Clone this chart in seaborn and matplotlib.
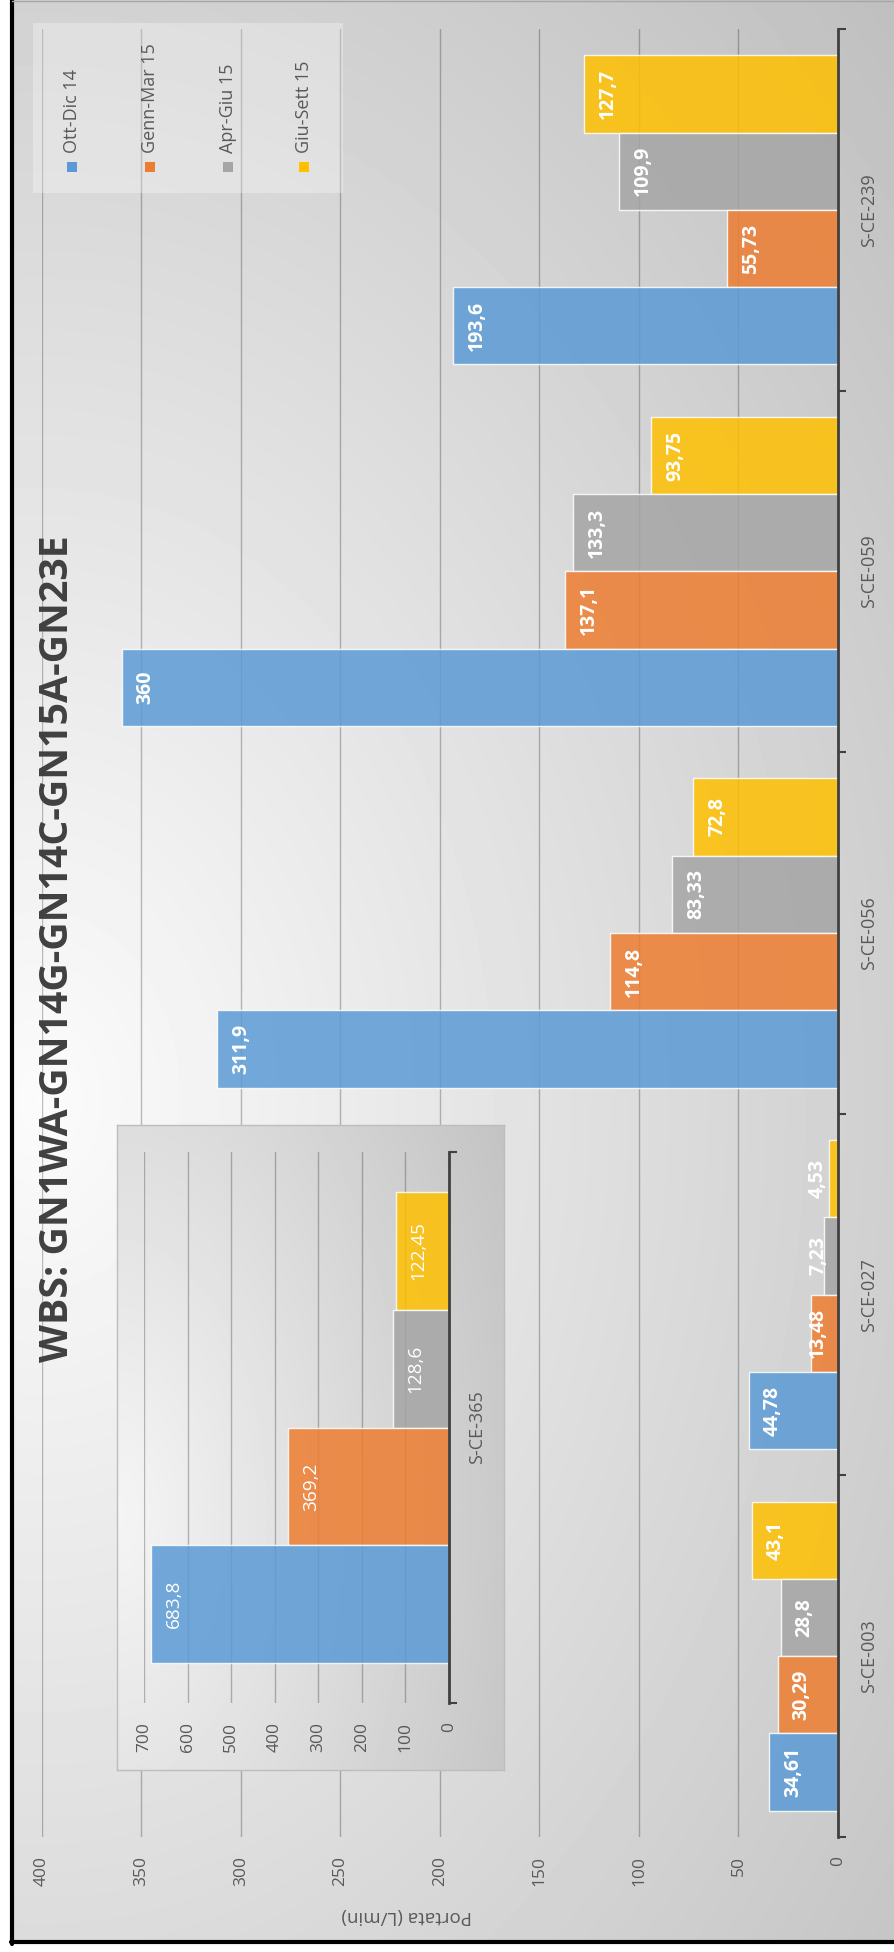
import numpy as np
import pandas as pd
import seaborn as sns
import matplotlib.pyplot as plt
from matplotlib.patches import Rectangle
from matplotlib.lines import Line2D

# data
periods = ['Ott-Dic 14', 'Genn-Mar 15', 'Apr-Giu 15', 'Giu-Sett 15']
colors = ['#5B9BD5', '#ED7D31', '#A5A5A5', '#FFC000']
stations = ['S-CE-003', 'S-CE-027', 'S-CE-056', 'S-CE-059', 'S-CE-239']
ott_dic = [34.61, 44.78, 311.9, 360, 193.6]
genn_mar = [30.29, 13.48, 114.8, 137.1, 55.73]
apr_giu = [28.8, 7.23, 83.33, 133.3, 109.9]
giu_sett = [43.1, 4.53, 72.8, 93.75, 127.7]

inset_station = ['S-CE-365']
inset_values = [683.8, 369.2, 128.6, 122.45]

title = 'WBS: GN1WA-GN14G-GN14C-GN15A-GN23E'
value_label = 'Portata (L/min)'

W, H = 895, 1952

df = pd.DataFrame({
    'Stazione': stations * 4,
    'Periodo': np.repeat(periods, len(stations)),
    'Portata': ott_dic + genn_mar + apr_giu + giu_sett,
})
df_in = pd.DataFrame({'Stazione': inset_station * 4, 'Periodo': periods,
                      'Portata': inset_values})

sns.set_style('white')
plt.rcParams['font.family'] = ['Open Sans', 'DejaVu Sans']

fig = plt.figure(figsize=(W / 100, H / 100), dpi=100)
fig.patch.set_facecolor('white')


def fx(px):
    return px / W


def fy(py):
    return 1 - py / H


def fmt(v):
    return f'{v:g}'.replace('.', ',')


# background gradient (whole chart area)
bg = fig.add_axes([fx(12), fy(1942), fx(W - 12), 1942 / H], zorder=0)
xx, yy = np.meshgrid(np.arange(12, W), np.arange(0, 1942))
d = np.sqrt(((xx - 40) / 850) ** 2 + ((yy - 1100) / 1150) ** 2)
bg.imshow(np.clip(0.985 - 0.17 * d, 0.74, 0.99), cmap='gray', vmin=0, vmax=1,
          extent=[0, 1, 0, 1], aspect='auto', origin='upper')
bg.set_axis_off()

# the chart is drawn turned a quarter turn: bars grow leftwards from the baseline
hue_order = periods[::-1]
pal = dict(zip(periods, colors))

# main chart
ax = fig.add_axes([fx(42), fy(1837), fx(838 - 42), (1837 - 29) / H], zorder=1)
ax.patch.set_alpha(0)
sns.barplot(data=df, y='Stazione', x='Portata', hue='Periodo', order=stations[::-1],
            hue_order=hue_order, palette=pal, orient='h', width=0.855, gap=0,
            saturation=1, alpha=0.85, edgecolor=(1, 1, 1, 0.45), linewidth=1,
            errorbar=None, legend=False, ax=ax, zorder=2)
ax.set_xlim(400, 0)
ax.set_ylim(len(stations) - 0.5, -0.5)
ax.set_xticks(np.arange(0, 401, 50))
ax.grid(axis='x', color='black', alpha=0.25, lw=1, zorder=1)
ax.grid(axis='y', visible=False)
ax.set_axisbelow(True)
ax.set_xlabel('')
ax.set_ylabel('')
for s in ['top', 'left', 'bottom']:
    ax.spines[s].set_visible(False)
ax.spines['right'].set_color('#404040')
ax.spines['right'].set_linewidth(2)
ax.yaxis.tick_right()
ax.set_yticks(np.arange(-0.5, len(stations), 1), minor=True)
ax.tick_params(axis='y', which='minor', length=6, width=1.5, color='#404040', right=True)
ax.tick_params(axis='y', which='major', length=0, pad=16, labelsize=13, labelcolor='#595959')
ax.tick_params(axis='x', length=0, pad=14, labelsize=12.5, labelcolor='#595959')
plt.setp(ax.get_xticklabels(), rotation=90)
plt.setp(ax.get_yticklabels(), rotation=90, va='center')

for cont in ax.containers:
    for bar in cont:
        v = bar.get_width()
        yc = bar.get_y() + bar.get_height() / 2
        ax.text(max(v - 12, 10), yc, fmt(v), rotation=90, ha='center', va='center',
                color='white', fontsize=14, fontweight='bold', zorder=4)

# inset box
bx = fig.add_axes([fx(117), fy(1770), fx(504 - 117), (1770 - 1125) / H], zorder=2)
xi, yi = np.meshgrid(np.linspace(0, 1, 200), np.linspace(1, 0, 300))
di = np.sqrt(xi ** 2 + ((yi - 0.4) / 1.1) ** 2)
bx.imshow(np.clip(0.96 - 0.17 * di, 0.75, 0.97), cmap='gray', vmin=0, vmax=1,
          extent=[0, 1, 0, 1], aspect='auto', origin='upper')
bx.set_xticks([])
bx.set_yticks([])
for s in bx.spines.values():
    s.set_color('#bdbdbd')
    s.set_linewidth(1)

ax2 = fig.add_axes([fx(144), fy(1703), fx(449 - 144), (1703 - 1152) / H], zorder=3)
ax2.patch.set_alpha(0)
sns.barplot(data=df_in, y='Stazione', x='Portata', hue='Periodo', hue_order=hue_order,
            palette=pal, orient='h', width=0.855, gap=0, saturation=1, alpha=0.85,
            edgecolor=(1, 1, 1, 0.45), linewidth=1, errorbar=None, legend=False,
            ax=ax2, zorder=2)
ax2.set_xlim(700, 0)
ax2.set_ylim(0.5, -0.5)
ax2.set_xticks(np.arange(0, 701, 100))
ax2.grid(axis='x', color='black', alpha=0.25, lw=1, zorder=1)
ax2.grid(axis='y', visible=False)
ax2.set_axisbelow(True)
ax2.set_xlabel('')
ax2.set_ylabel('')
for s in ['top', 'left', 'bottom']:
    ax2.spines[s].set_visible(False)
ax2.spines['right'].set_color('#404040')
ax2.spines['right'].set_linewidth(2)
ax2.yaxis.tick_right()
ax2.set_yticks([-0.5, 0.5], minor=True)
ax2.tick_params(axis='y', which='minor', length=6, width=1.5, color='#404040', right=True)
ax2.tick_params(axis='y', which='major', length=0, pad=14, labelsize=13, labelcolor='#595959')
ax2.tick_params(axis='x', length=0, pad=14, labelsize=12.5, labelcolor='#595959')
plt.setp(ax2.get_xticklabels(), rotation=90)
plt.setp(ax2.get_yticklabels(), rotation=90, va='center')
for cont in ax2.containers:
    for bar in cont:
        v = bar.get_width()
        yc = bar.get_y() + bar.get_height() / 2
        ax2.text(v - 52, yc, fmt(v), rotation=90, ha='center', va='center',
                 color='white', fontsize=13.7, zorder=4)

# title and axis title
fig.text(fx(58), fy(949), title, rotation=90, ha='center', va='center',
         fontsize=28.3, fontweight='bold', color='#404040', zorder=6)
fig.text(fx(407), fy(1916), value_label, rotation=180, ha='center', va='center',
         fontsize=13.5, color='#595959', zorder=6)

# legend drawn by hand (rotated entries)
fig.add_artist(Rectangle((fx(33), fy(193)), fx(343 - 33), (193 - 23) / H,
                         transform=fig.transFigure, facecolor='white', alpha=0.3,
                         edgecolor='none', zorder=5))
for xc, lab, col in zip([72, 150, 228, 304], periods, colors):
    fig.add_artist(Rectangle((fx(xc - 5), fy(172)), fx(10), 10 / H,
                             transform=fig.transFigure, facecolor=col, edgecolor='none', zorder=6))
    fig.text(fx(xc), fy(153), lab, rotation=90, ha='center', va='bottom',
             fontsize=13, color='#595959', zorder=6)

# frame
fig.add_artist(Line2D([fx(12), fx(12)], [fy(1944), 1], transform=fig.transFigure,
                      color='black', lw=3, zorder=10))
fig.add_artist(Line2D([fx(11), 1], [fy(1942), fy(1942)], transform=fig.transFigure,
                      color='black', lw=3, zorder=10))
fig.add_artist(Line2D([fx(12), 1], [fy(1), fy(1)], transform=fig.transFigure,
                      color='#a6a6a6', lw=1, zorder=10))

fig.savefig('out.png', dpi=100)
